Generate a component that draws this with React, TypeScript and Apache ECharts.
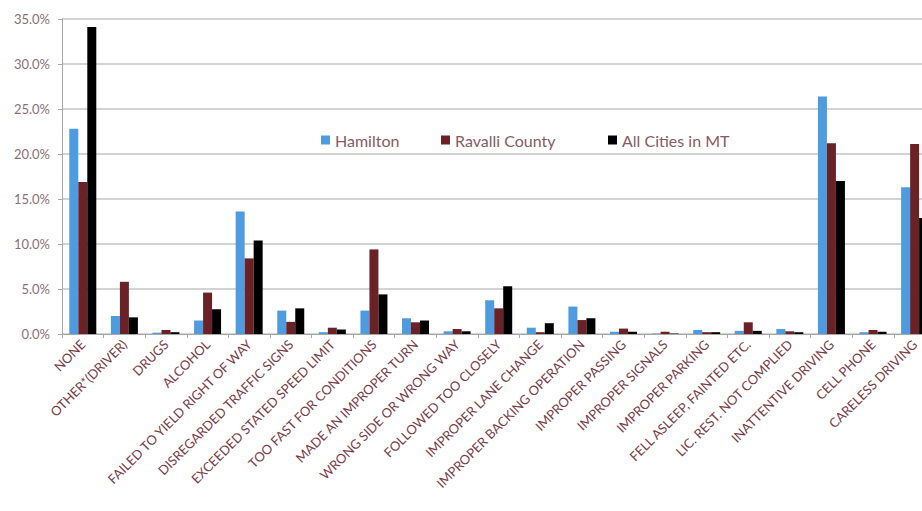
import React, { useEffect, useRef } from "react";
import * as echarts from "echarts";

const categories = [
  "NONE",
  "OTHER*(DRIVER)",
  "DRUGS",
  "ALCOHOL",
  "FAILED TO YIELD RIGHT OF WAY",
  "DISREGARDED TRAFFIC SIGNS",
  "EXCEEDED STATED SPEED LIMIT",
  "TOO FAST FOR CONDITIONS",
  "MADE AN IMPROPER TURN",
  "WRONG SIDE OR WRONG WAY",
  "FOLLOWED TOO CLOSELY",
  "IMPROPER LANE CHANGE",
  "IMPROPER BACKING OPERATION",
  "IMPROPER PASSING",
  "IMPROPER SIGNALS",
  "IMPROPER PARKING",
  "FELL ASLEEP, FAINTED ETC.",
  "LIC. REST. NOT COMPLIED",
  "INATTENTIVE DRIVING",
  "CELL PHONE",
  "CARELESS DRIVING",
  "",
];

const hamilton = [22.8, 2.0, 0.15, 1.5, 13.6, 2.6, 0.2, 2.6, 1.75, 0.3, 3.75, 0.7, 3.05, 0.25, 0.05, 0.45, 0.35, 0.55, 26.4, 0.2, 16.3, 0];
const ravalli = [16.9, 5.8, 0.45, 4.6, 8.4, 1.35, 0.7, 9.4, 1.3, 0.55, 2.85, 0.2, 1.55, 0.6, 0.25, 0.2, 1.3, 0.3, 21.2, 0.45, 21.1, 0];
const allCities = [34.1, 1.85, 0.2, 2.75, 10.4, 2.85, 0.5, 4.4, 1.5, 0.3, 5.3, 1.2, 1.75, 0.25, 0.05, 0.2, 0.35, 0.2, 17.0, 0.25, 12.9, 0];

const seriesNames = ["Hamilton", "Ravalli County", "All Cities in MT"];
const colors = ["#4f9be0", "#6b2226", "#000000"];
const legendLefts = [316, 436, 603];

export default function App() {
  const ref = useRef<HTMLDivElement>(null);
  useEffect(() => {
    if (!ref.current) return;
    const chart = echarts.init(ref.current, undefined, { renderer: "svg" });
    const font = "Lato, 'Open Sans', sans-serif";
    chart.setOption({
      animation: false,
      backgroundColor: "#ffffff",
      textStyle: { fontFamily: font },
      legend: seriesNames.map((name, i) => ({
        left: legendLefts[i],
        top: 127,
        itemWidth: 9,
        itemHeight: 9,
        itemGap: 0,
        icon: "rect",
        textStyle: { color: "#8a5a62", fontSize: 16, fontFamily: font },
        data: [name],
      })),
      grid: {
        left: 62,
        top: 19,
        width: 915,
        height: 315,
        containLabel: false,
        outerBoundsMode: "none",
      },
      xAxis: {
        type: "category",
        data: categories,
        boundaryGap: true,
        axisLine: { lineStyle: { color: "#a8a8a8", width: 1 } },
        axisTick: { show: true, length: 4, lineStyle: { color: "#a8a8a8" } },
        axisLabel: {
          interval: 0,
          rotate: 45,
          fontSize: 13,
          color: "#7c3c46",
          margin: 8,
          fontFamily: font,
        },
      },
      yAxis: {
        type: "value",
        min: 0,
        max: 35,
        interval: 5,
        axisLine: { show: true, lineStyle: { color: "#a8a8a8" } },
        axisTick: { show: true, length: 4, lineStyle: { color: "#a8a8a8" } },
        axisLabel: {
          formatter: (v: number) => v.toFixed(1) + "%",
          fontSize: 13,
          color: "#8a7075",
          margin: 12,
          fontFamily: font,
        },
        splitLine: { lineStyle: { color: "#c4c4c4", width: 1.5 } },
      },
      series: seriesNames.map((name, i) => ({
        name,
        type: "bar",
        data: [hamilton, ravalli, allCities][i],
        barWidth: 9,
        barGap: "0%",
        itemStyle: { color: colors[i] },
      })),
    });
    return () => chart.dispose();
  }, []);
  return (
    <div
      ref={ref}
      style={{ position: "fixed", left: 0, top: 0, width: 922, height: 511, background: "#fff" }}
    />
  );
}
